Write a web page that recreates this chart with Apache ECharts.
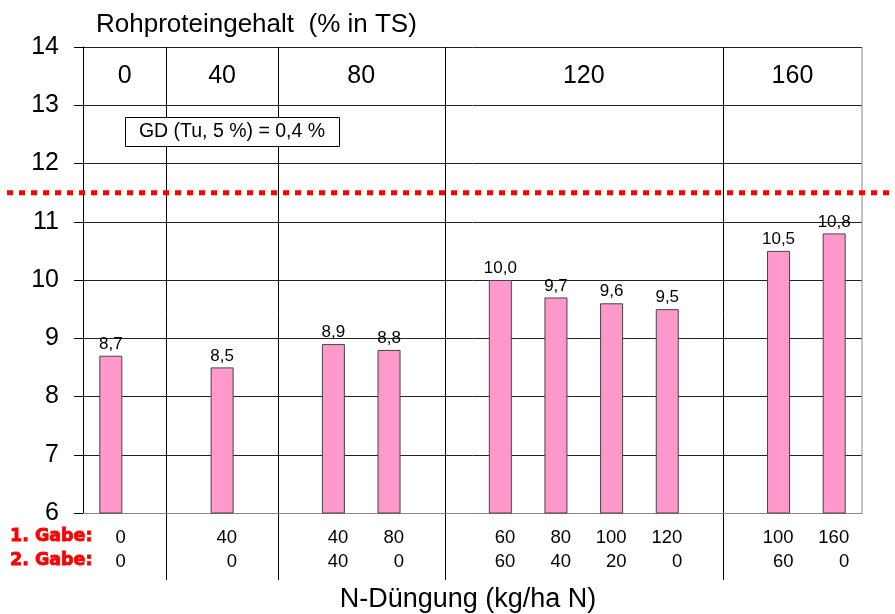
<!DOCTYPE html>
<html><head><meta charset="utf-8">
<script src="https://cdn.jsdelivr.net/npm/echarts@6/dist/echarts.min.js"></script>
<style>html,body{margin:0;padding:0;background:#fff}#c{width:895px;height:614px}</style>
</head><body><div id="c"></div>
<script>
// Slots along the x axis (empty slots hold the group separators)
const gabe1 = ['0', '', '40', '', '40', '80', '', '60', '80', '100', '120', '', '100', '160'];
const gabe2 = ['0', '', '0', '', '40', '0', '', '60', '40', '20', '0', '', '60', '0'];
const protein = [8.7, null, 8.5, null, 8.9, 8.8, null, 10.0, 9.7, 9.6, 9.5, null, 10.5, 10.8];
const separatorSlots = [1, 3, 6, 11];
const groupLabels = ['0', '40', '80', '120', '160'];
const yTicks = [6, 7, 8, 9, 10, 11, 12, 13, 14];
const thresholdValue = 11.5;
const gdText = 'GD (Tu, 5 %) = 0,4 %';
const titleText = 'Rohproteingehalt  (% in TS)';
const xTitle = 'N-Düngung (kg/ha N)';

const FONT = '"Liberation Sans", Arial, sans-serif';
const cats = gabe1.map((g, i) => 'S' + i);
const chart = echarts.init(document.getElementById('c'), null, {renderer: 'canvas'});

const option = {
  animation: false,
  backgroundColor: '#fff',
  grid: {left: 83, right: 33, top: 47, bottom: 101, show: false},
  xAxis: {
    type: 'category', data: cats,
    axisLine: {show: true, lineStyle: {color: '#888', width: 1}},
    axisTick: {show: false},
    splitLine: {show: false},
    axisLabel: {
      interval: 0, margin: 13,
      formatter: (v, i) => '{a|' + gabe1[i] + '}\n{a|' + gabe2[i] + '}',
      rich: {a: {width: 30, align: 'right', fontSize: 18.5, lineHeight: 24, color: '#000', fontFamily: FONT}}
    }
  },
  yAxis: {
    type: 'value', min: 6, max: 14, interval: 1,
    axisLine: {show: true, lineStyle: {color: '#000', width: 1}},
    axisTick: {show: true, inside: false, length: 9, lineStyle: {color: '#000'}},
    axisLabel: {margin: 24, fontSize: 25, color: '#000', fontFamily: FONT,
      formatter: v => yTicks.includes(v) ? String(v) : ''},
    splitLine: {show: true, lineStyle: {color: '#222', width: 1}}
  },
  series: [{
    type: 'bar', data: protein, barWidth: 23,
    itemStyle: {color: '#ff99cc', borderColor: '#444', borderWidth: 1},
    label: {show: true, position: 'top', distance: 3, fontSize: 17, color: '#000', fontFamily: FONT,
      formatter: p => p.value == null ? '' : p.value.toFixed(1).replace('.', ',')}
  }]
};
chart.setOption(option);

const px = i => chart.convertToPixel({xAxisIndex: 0}, cats[i]);
const py = v => chart.convertToPixel({yAxisIndex: 0}, v);
const band = px(1) - px(0);
const leftEdge = px(0) - band / 2;
const rightEdge = px(cats.length - 1) + band / 2;
const yTop = py(14), yBot = py(6);

const g = [];
// right border
g.push({type: 'line', shape: {x1: rightEdge, y1: yTop, x2: rightEdge, y2: yBot}, style: {stroke: '#888', lineWidth: 1}});
// separators
separatorSlots.forEach(s => {
  const x = Math.round(px(s)) + 0.5;
  g.push({type: 'line', shape: {x1: x, y1: yTop, x2: x, y2: yBot + 67}, style: {stroke: '#000', lineWidth: 1}});
});
// group labels
const bounds = [leftEdge].concat(separatorSlots.map(px)).concat([rightEdge]);
groupLabels.forEach((t, k) => {
  g.push({type: 'text', x: (bounds[k] + bounds[k + 1]) / 2, y: py(13.5),
    style: {text: t, fontSize: 25, fontFamily: FONT, fill: '#000', textAlign: 'center', textVerticalAlign: 'middle'}});
});
// threshold dotted line
const yt = py(thresholdValue);
g.push({type: 'line', shape: {x1: 7, y1: yt, x2: 895, y2: yt}, style: {stroke: '#ff0000', lineWidth: 5, lineDash: [6, 6]}, z: 10});
// GD box
g.push({type: 'rect', shape: {x: 125.5, y: 117.5, width: 214, height: 29}, style: {fill: '#fff', stroke: '#000', lineWidth: 1}, z: 5});
g.push({type: 'text', x: 232, y: 132, style: {text: gdText, fontSize: 19.5, fontFamily: FONT, fill: '#000', textAlign: 'center', textVerticalAlign: 'middle'}, z: 6});
// title
g.push({type: 'text', x: 96, y: 25, style: {text: titleText, fontSize: 26, fontFamily: FONT, fill: '#000', textAlign: 'left', textVerticalAlign: 'middle'}});
// x axis title
g.push({type: 'text', x: 468, y: 600, style: {text: xTitle, fontSize: 27, fontFamily: FONT, fill: '#000', textAlign: 'center', textVerticalAlign: 'middle'}});
// Gabe labels
['1. Gabe:', '2. Gabe:'].forEach((t, k) => {
  g.push({type: 'text', x: 10, y: 536 + k * 24, style: {text: t, fontSize: 17.5, fontWeight: 900, fontFamily: '"DejaVu Sans", sans-serif', fill: '#ff0000', stroke: '#ff0000', lineWidth: 0.8, textAlign: 'left', textVerticalAlign: 'middle'}});
});
chart.setOption({graphic: {elements: g}});
</script>
</body></html>
